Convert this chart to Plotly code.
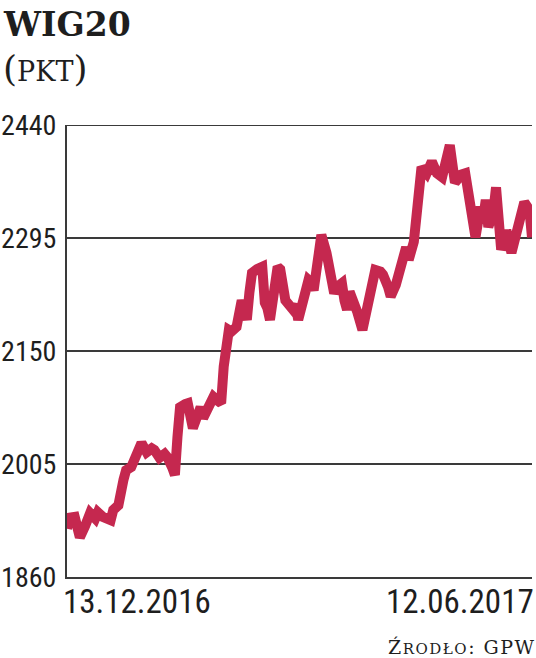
import plotly.graph_objects as go

dates = [
    "2016-12-13", "2016-12-14", "2016-12-16", "2016-12-17", "2016-12-18", "2016-12-20",
    "2016-12-22", "2016-12-24", "2016-12-25", "2016-12-27", "2016-12-30", "2016-12-31",
    "2017-01-01", "2017-01-02", "2017-01-04", "2017-01-05", "2017-01-07", "2017-01-09",
    "2017-01-11", "2017-01-13", "2017-01-15", "2017-01-16", "2017-01-18", "2017-01-20",
    "2017-01-21", "2017-01-23", "2017-01-24", "2017-01-25", "2017-01-26", "2017-01-28",
    "2017-01-29", "2017-01-31", "2017-02-02", "2017-02-03", "2017-02-04", "2017-02-07",
    "2017-02-08", "2017-02-09", "2017-02-11", "2017-02-12", "2017-02-13", "2017-02-14",
    "2017-02-15", "2017-02-17", "2017-02-19", "2017-02-20", "2017-02-21", "2017-02-22",
    "2017-02-23", "2017-02-25", "2017-02-27", "2017-02-28", "2017-03-01", "2017-03-02",
    "2017-03-04", "2017-03-05", "2017-03-06", "2017-03-07", "2017-03-08", "2017-03-11",
    "2017-03-12", "2017-03-13", "2017-03-15", "2017-03-17", "2017-03-18", "2017-03-19",
    "2017-03-21", "2017-03-22", "2017-03-24", "2017-03-26", "2017-03-27", "2017-03-28",
    "2017-03-30", "2017-03-31", "2017-04-01", "2017-04-02", "2017-04-04", "2017-04-05",
    "2017-04-07", "2017-04-09", "2017-04-10", "2017-04-12", "2017-04-14", "2017-04-15",
    "2017-04-17", "2017-04-18", "2017-04-20", "2017-04-22", "2017-04-24", "2017-04-25",
    "2017-04-27", "2017-04-28", "2017-04-29", "2017-04-30", "2017-05-01", "2017-05-02",
    "2017-05-04", "2017-05-06", "2017-05-08", "2017-05-10", "2017-05-11", "2017-05-12",
    "2017-05-13", "2017-05-14", "2017-05-15", "2017-05-17", "2017-05-19", "2017-05-21",
    "2017-05-23", "2017-05-24", "2017-05-25", "2017-05-26", "2017-05-28", "2017-05-29",
    "2017-05-30", "2017-05-31", "2017-06-01", "2017-06-02", "2017-06-04", "2017-06-06",
    "2017-06-07", "2017-06-09", "2017-06-11", "2017-06-12",
]

wig20 = [
    1922, 1936, 1937, 1915, 1911, 1925,
    1942, 1935, 1943, 1937, 1933, 1946,
    1950, 1952, 1985, 1997, 2001, 2015,
    2032, 2020, 2025, 2023, 2013, 2018,
    2014, 2000, 1991, 2040, 2078, 2082,
    2083, 2051, 2065, 2078, 2064, 2083,
    2091, 2088, 2083, 2130, 2165, 2177,
    2175, 2181, 2215, 2195, 2190, 2225,
    2250, 2255, 2258, 2212, 2205, 2190,
    2230, 2258, 2255, 2232, 2215, 2203,
    2210, 2190, 2215, 2241, 2238, 2228,
    2275, 2299, 2276, 2250, 2224, 2232,
    2237, 2215, 2203, 2226, 2212, 2200,
    2177, 2205, 2232, 2254, 2252, 2248,
    2232, 2220, 2235, 2258, 2283, 2267,
    2290, 2322, 2360, 2386, 2382, 2378,
    2393, 2378, 2373, 2395, 2414, 2390,
    2366, 2370, 2376, 2378, 2327, 2296,
    2335, 2320, 2344, 2309, 2330, 2360,
    2320, 2280, 2290, 2305, 2276, 2305,
    2309, 2341, 2331, 2296,
]

y_ticks = [1860, 2005, 2150, 2295, 2440]
x_tick_dates = ["2016-12-13", "2017-06-12"]
x_tick_labels = ["13.12.2016", "12.06.2017"]

title_text = "WIG20"
unit_text = "(<span style='font-size:27px'>PKT</span>)"
source_text = ("<span style='letter-spacing:1.5px'>Ź<span style='font-size:15px'>RODŁO</span>"
               ": GPW</span>")

LINE_COLOR = "#C5284F"
GRID_COLOR = "#3a3a3a"
TEXT_COLOR = "#1e1e1e"
NARROW = "Roboto Condensed, DejaVu Sans Condensed, sans-serif"
SLAB = "DejaVu Serif, serif"

fig = go.Figure()
fig.add_trace(go.Scatter(
    x=dates, y=wig20, mode="lines",
    line=dict(color=LINE_COLOR, width=10, shape="linear"),
    hoverinfo="skip", showlegend=False, cliponaxis=False,
))

fig.update_layout(
    width=536, height=658,
    margin=dict(l=67, r=4, t=125, b=81, autoexpand=False),
    paper_bgcolor="white", plot_bgcolor="white",
    showlegend=False,
    xaxis=dict(
        type="date", range=[dates[0], dates[-1]], automargin=False,
        showgrid=False, zeroline=False, showticklabels=False, ticks="",
        showline=True, linecolor=GRID_COLOR, linewidth=2,
    ),
    yaxis=dict(
        range=[y_ticks[0], y_ticks[-1]], tickvals=y_ticks, automargin=False,
        ticktext=[str(v) for v in y_ticks],
        showgrid=True, gridcolor=GRID_COLOR, gridwidth=2,
        zeroline=False, ticks="", showline=True, linecolor=GRID_COLOR, linewidth=2,
        tickfont=dict(family=NARROW, size=28, color=TEXT_COLOR),
        ticklabelstandoff=3,
    ),
)

# top gridline (edge)
fig.add_shape(type="line", xref="paper", yref="y", x0=0, x1=1,
              y0=y_ticks[-1], y1=y_ticks[-1],
              line=dict(color=GRID_COLOR, width=2), layer="below")

# date labels at the ends of the axis
for i, (d, lab) in enumerate(zip(x_tick_dates, x_tick_labels)):
    fig.add_annotation(
        x=d, xref="x", y=0, yref="paper", yanchor="top",
        xanchor="left" if i == 0 else "right",
        xshift=-6 if i == 0 else 4, yshift=-3,
        text=lab, showarrow=False,
        font=dict(family=NARROW, size=33, color=TEXT_COLOR),
    )

fig.add_annotation(
    x=0, y=1, xref="paper", yref="paper", xanchor="left", yanchor="top",
    xshift=-67 + 1, yshift=125 - 3, text="<b>" + title_text + "</b>", showarrow=False,
    font=dict(family=SLAB, size=33, color=TEXT_COLOR),
)
fig.add_annotation(
    x=0, y=1, xref="paper", yref="paper", xanchor="left", yanchor="top",
    xshift=-67 + 1, yshift=125 - 46, text=unit_text, showarrow=False,
    font=dict(family=SLAB, size=36, color=TEXT_COLOR),
)
fig.add_annotation(
    x=1, y=0, xref="paper", yref="paper", xanchor="right", yanchor="top",
    xshift=6, yshift=-57, text=source_text, showarrow=False,
    font=dict(family=SLAB, size=19, color=TEXT_COLOR),
)

fig.write_html("out.html", config={"displayModeBar": False},
               post_script="document.body.style.margin='0';")
